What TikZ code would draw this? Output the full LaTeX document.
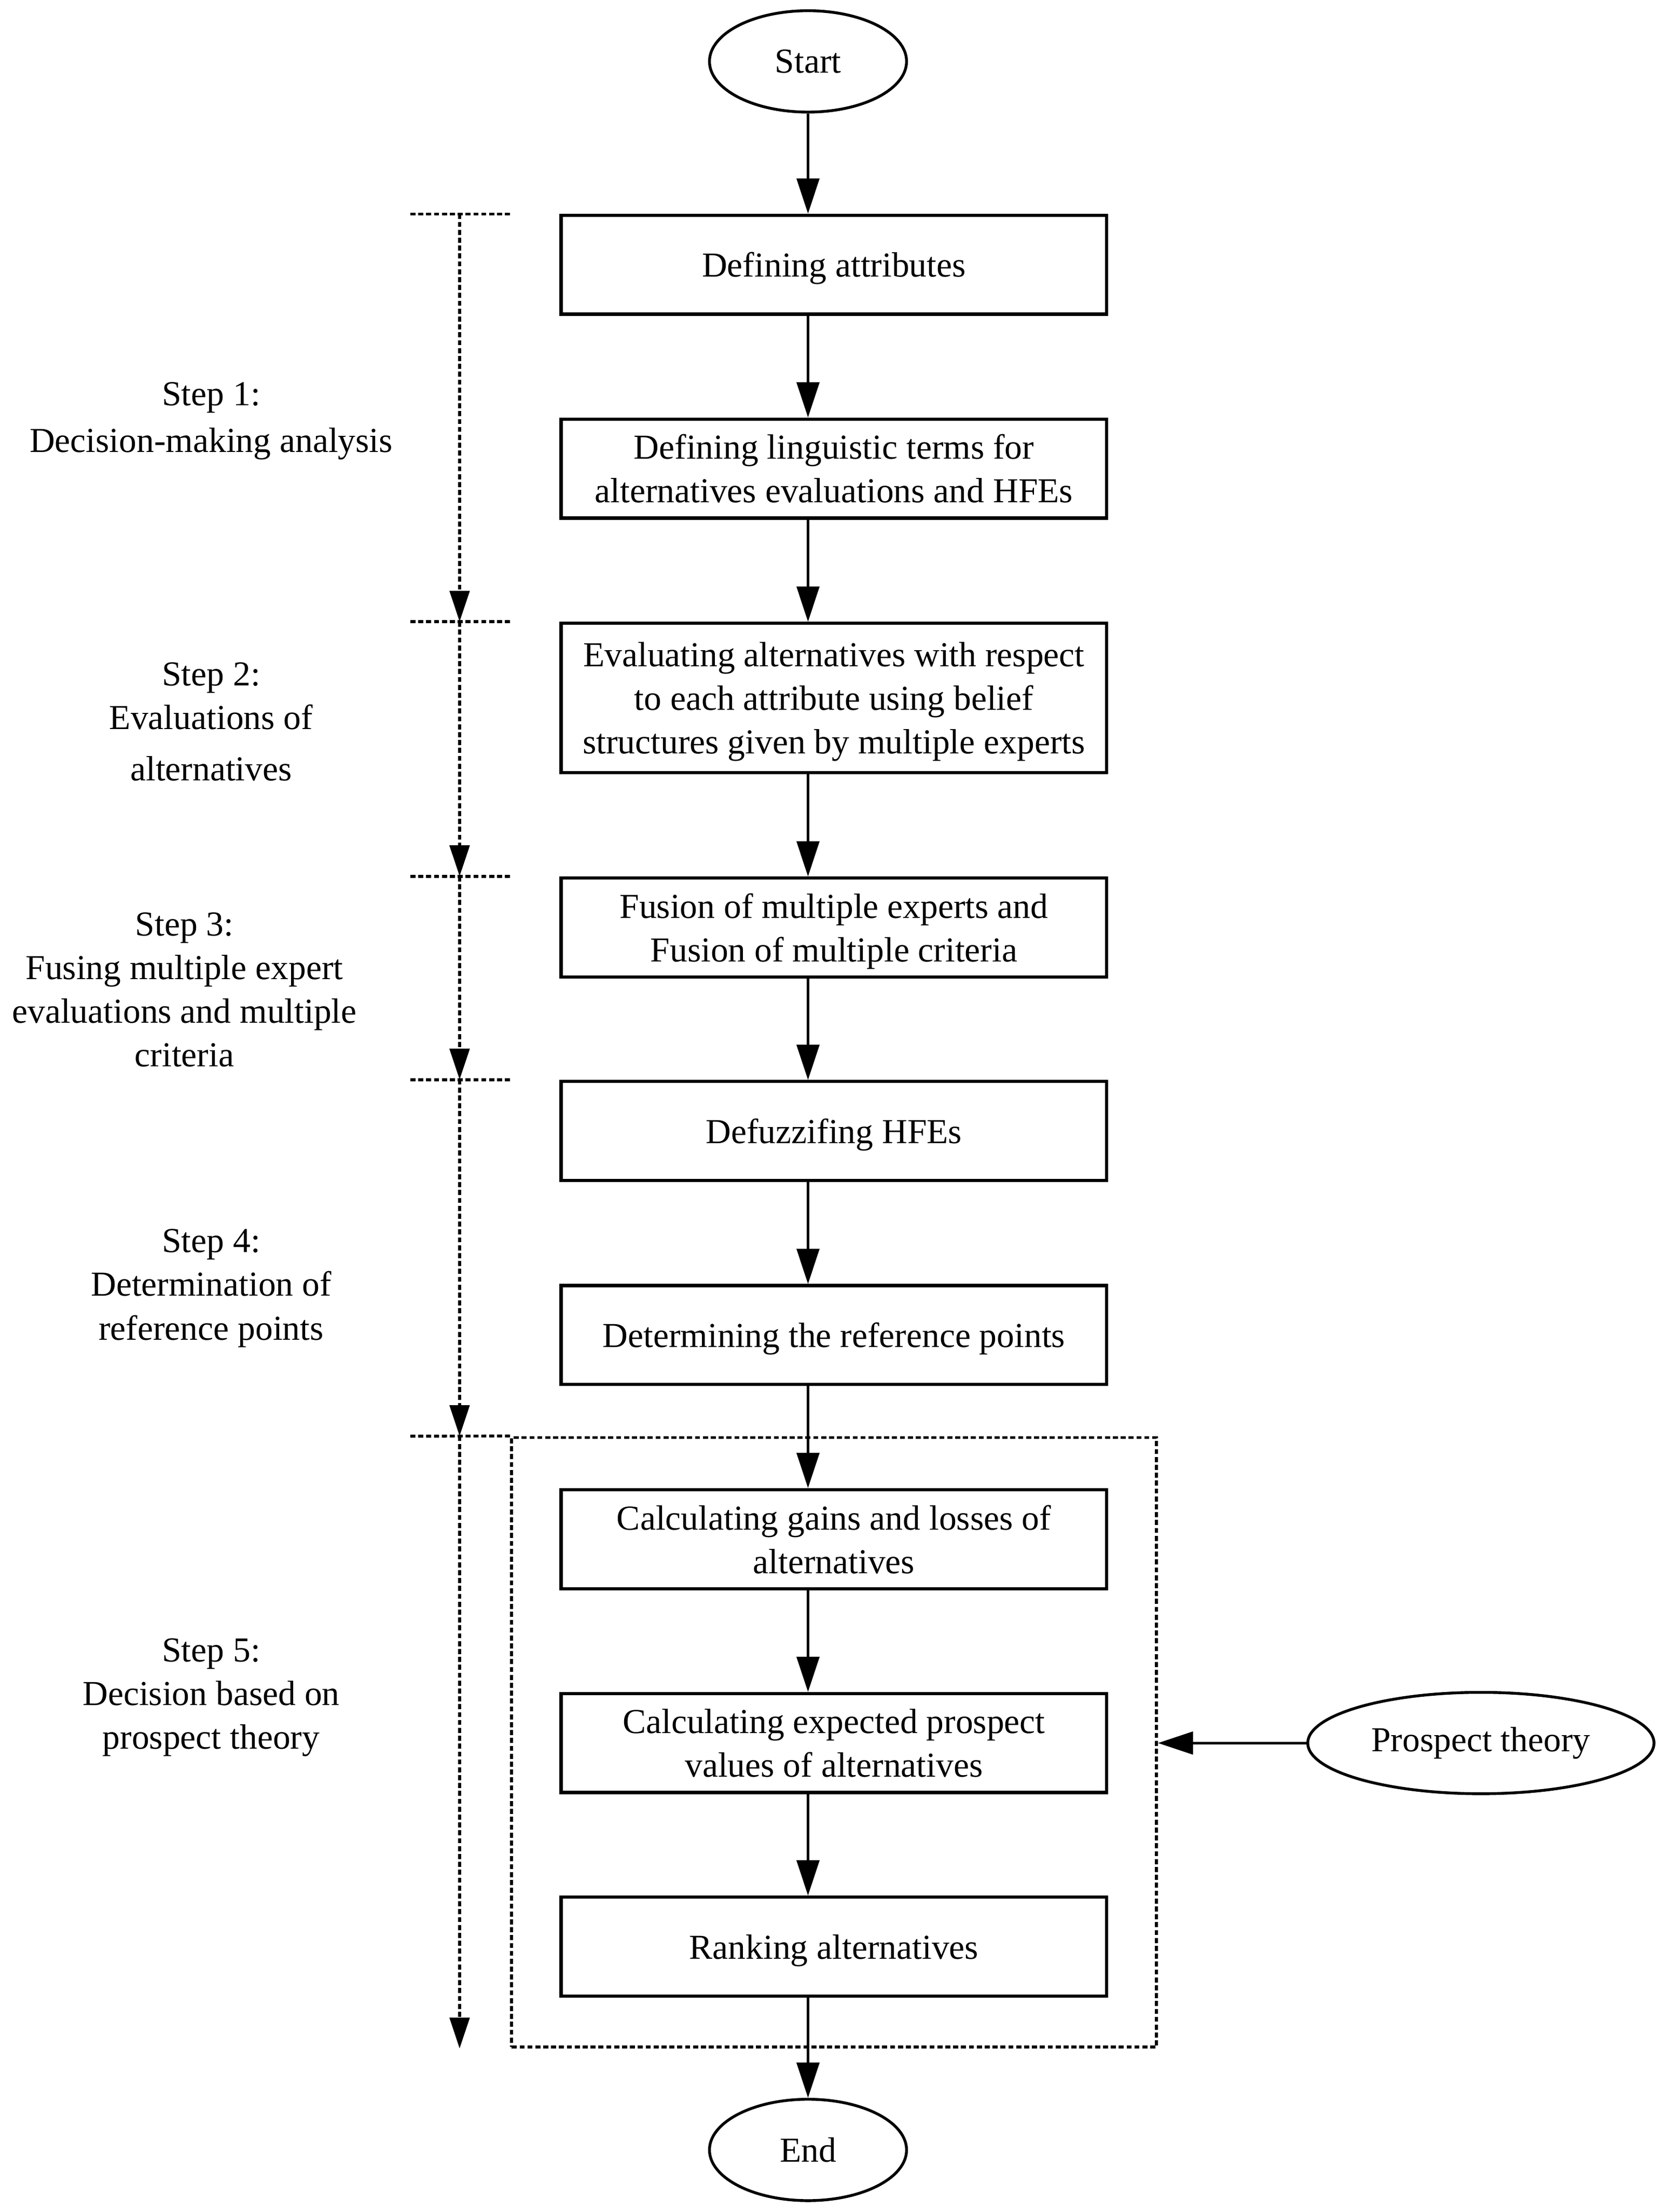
\documentclass[tikz,border=0pt]{standalone}
\usepackage{fontspec}
\setmainfont{Liberation Serif}
\usetikzlibrary{arrows.meta,shapes.geometric}
\newcommand{\nodp}[1]{\raisebox{0pt}[\height][0pt]{#1}}
\begin{document}
\begin{tikzpicture}[x=0.5pt,y=-0.5pt,
  every node/.style={font=\fontsize{12.45pt}{15.5pt}\selectfont, inner sep=0pt},
  procbox/.style={draw, line width=1.15pt, minimum width=193.8pt, minimum height=35.15pt, align=center},
  termnode/.style={draw, ellipse, line width=1pt, minimum width=70pt, minimum height=36pt},
  flow/.style={line width=1pt, -{Triangle[length=12.5pt,width=8pt]}},
  dotline/.style={line width=1.05pt, dash pattern=on 1.8pt off 1pt},
  dotflow/.style={dotline, -{Triangle[length=11pt,width=7pt]}},
  steplabel/.style={align=center, anchor=north}
]
\useasboundingbox (0,0) rectangle (1186,1571.1);

% process nodes
\node[termnode] (startn) at (574,43.6) {Start};
\node[procbox] (b1) at (592.4,188) {\nodp{Defining attributes}};
\node[procbox] (b2) at (592.4,332.8) {Defining linguistic terms for\\\nodp{alternatives evaluations and HFEs}};
\node[procbox, minimum height=53pt] (b3) at (592.4,495.7) {Evaluating alternatives with respect\\to each attribute using belief\\\nodp{structures given by multiple experts}};
\node[procbox] (b4) at (592.4,658.8) {Fusion of multiple experts and\\\nodp{Fusion of multiple criteria}};
\node[procbox] (b5) at (592.4,803.3) {\nodp{Defuzzifing HFEs}};
\node[procbox] (b6) at (592.4,948.2) {\nodp{Determining the reference points}};
\node[procbox] (b7) at (592.4,1093.2) {Calculating gains and losses of\\\nodp{alternatives}};
\node[procbox] (b8) at (592.4,1238) {Calculating expected prospect\\\nodp{values of alternatives}};
\node[procbox] (b9) at (592.4,1382.6) {\nodp{Ranking alternatives}};
\node[termnode] (endn) at (574,1527) {End};
\node[termnode, minimum width=123pt] (pt) at (1052,1238) {Prospect theory};
\node[draw, dotline, minimum width=229pt, minimum height=216.5pt] (fbox) at (592.5,1237.5) {};

% main flow
\draw[flow] (startn.south) -- (b1.north -| startn.south);
\draw[flow] (b1.south -| startn) -- (b2.north -| startn);
\draw[flow] (b2.south -| startn) -- (b3.north -| startn);
\draw[flow] (b3.south -| startn) -- (b4.north -| startn);
\draw[flow] (b4.south -| startn) -- (b5.north -| startn);
\draw[flow] (b5.south -| startn) -- (b6.north -| startn);
\draw[flow] (b6.south -| startn) -- (b7.north -| startn);
\draw[flow] (b7.south -| startn) -- (b8.north -| startn);
\draw[flow] (b8.south -| startn) -- (b9.north -| startn);
\draw[flow] (b9.south -| endn) -- (endn.north);
\draw[flow] (pt.west) -- (pt.west -| fbox.east);

% step separators
\coordinate (l1) at (291.5,152);    \coordinate (r1) at (362.5,152);
\coordinate (l2) at (291.5,441.6);  \coordinate (r2) at (362.5,441.6);
\coordinate (l3) at (291.5,622.4);  \coordinate (r3) at (362.5,622.4);
\coordinate (l4) at (291.5,766.8);  \coordinate (r4) at (362.5,766.8);
\coordinate (l5) at (291.5,1020);
\coordinate (d1) at (326.5,152);
\coordinate (d2) at (326.5,441.6);
\coordinate (d3) at (326.5,622.4);
\coordinate (d4) at (326.5,766.8);
\coordinate (d5) at (326.5,1020);
\coordinate (d6) at (326.5,1455);
\draw[dotline] (l1) -- (r1);
\draw[dotline] (l2) -- (r2);
\draw[dotline] (l3) -- (r3);
\draw[dotline] (l4) -- (r4);
\draw[dotline] (l5) -- (fbox.north west);
\draw[dotflow] (d1) -- (d2);
\draw[dotflow] (d2) -- (d3);
\draw[dotflow] (d3) -- (d4);
\draw[dotflow] (d4) -- (d5);
\draw[dotflow] (d5) -- (d6);

% step labels
\node[steplabel] (s1) at (150,271.2) {Step 1:\\[1pt]Decision-making analysis};
\node[steplabel] (s2) at (150,470.2) {Step 2:\\Evaluations of\\[2.75pt]alternatives};
\node[steplabel] (s3) at (131,647.7) {Step 3:\\Fusing multiple expert\\evaluations and multiple\\criteria};
\node[steplabel] (s4) at (150,872.7) {Step 4:\\Determination of\\reference points};
\node[steplabel] (s5) at (150,1163.2) {Step 5:\\Decision based on\\prospect theory};
\end{tikzpicture}
\end{document}
